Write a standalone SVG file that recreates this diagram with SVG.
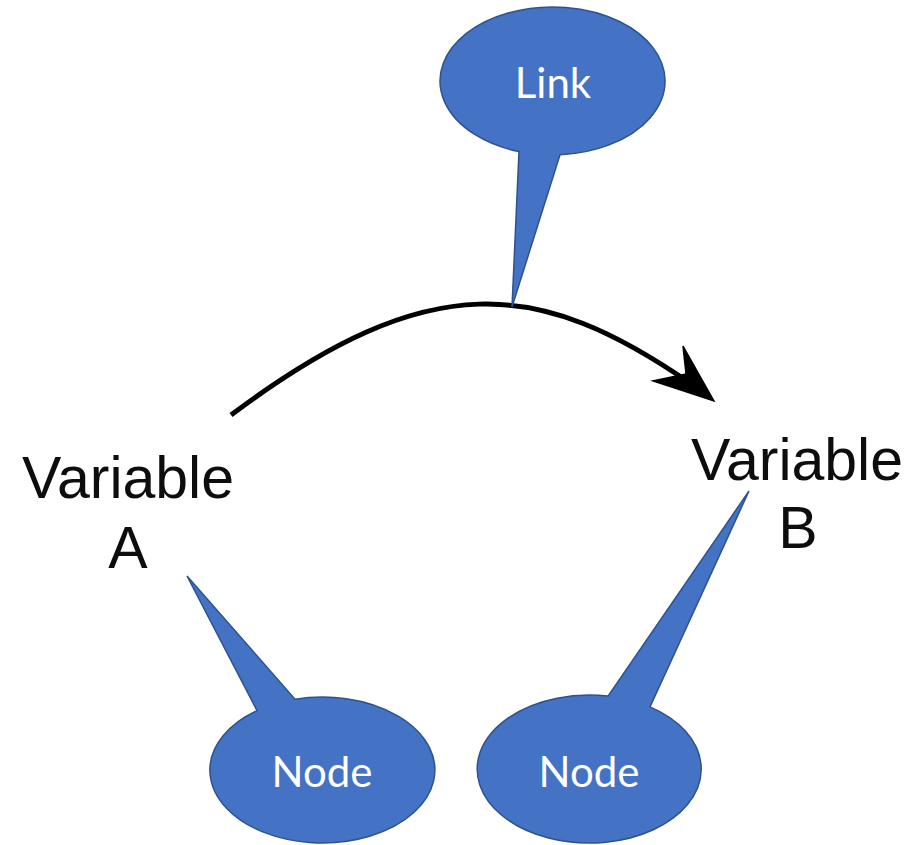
<svg xmlns="http://www.w3.org/2000/svg" width="918" height="845" viewBox="0 0 918 845">
  <style>
    .var { font-family: "Liberation Sans", Arial, sans-serif; font-size: 59px; fill: #111; text-anchor: middle; }
    .callout { fill: #4472C4; stroke: #2F528F; stroke-width: 1.5; stroke-linejoin: miter; }
    .callout-text { font-family: Lato, "Open Sans", sans-serif; font-size: 42px; fill: #ffffff; text-anchor: middle; }
    .link { fill: none; stroke: #000; stroke-width: 5; stroke-linecap: butt; }
    .head { fill: #000; stroke: #000; stroke-width: 1.5; stroke-linejoin: miter; }
  </style>
  <defs>
    <filter id="soft" x="-5%" y="-5%" width="110%" height="110%">
      <feGaussianBlur stdDeviation="0.7"/>
    </filter>
  </defs>
  <rect width="918" height="845" fill="#ffffff"/>

  <!-- causal link between the two variables -->
  <g id="connectors" filter="url(#soft)">
    <path class="link" d="M231,415 C431,265 540,280 690,383"/>
    <path class="head" d="M714,401 L683,346 L686,374 L653,381 Z"/>
  </g>

  <g id="node-variable-a" filter="url(#soft)">
    <text class="var" x="128" y="498">Variable</text>
    <text class="var" x="128" y="568">A</text>
  </g>

  <g id="node-variable-b" filter="url(#soft)">
    <text class="var" x="797" y="480">Variable</text>
    <text class="var" x="798" y="548">B</text>
  </g>

  <!-- speech-bubble annotations -->
  <g id="callout-link">
    <path class="callout" d="M519,151.6 A112.5,74 0 1 1 560,154.8 L512,307 Z"/>
    <text class="callout-text" x="553" y="98">Link</text>
  </g>

  <g id="callout-node-a">
    <path class="callout" d="M295,699.2 A112.5,73 0 1 1 257,710.6 L187,576 Z"/>
    <text class="callout-text" x="322" y="787">Node</text>
  </g>

  <g id="callout-node-b">
    <path class="callout" d="M650,706.9 A112,74 0 1 1 608,696.1 L749,491 Z"/>
    <text class="callout-text" x="589" y="787">Node</text>
  </g>
</svg>
